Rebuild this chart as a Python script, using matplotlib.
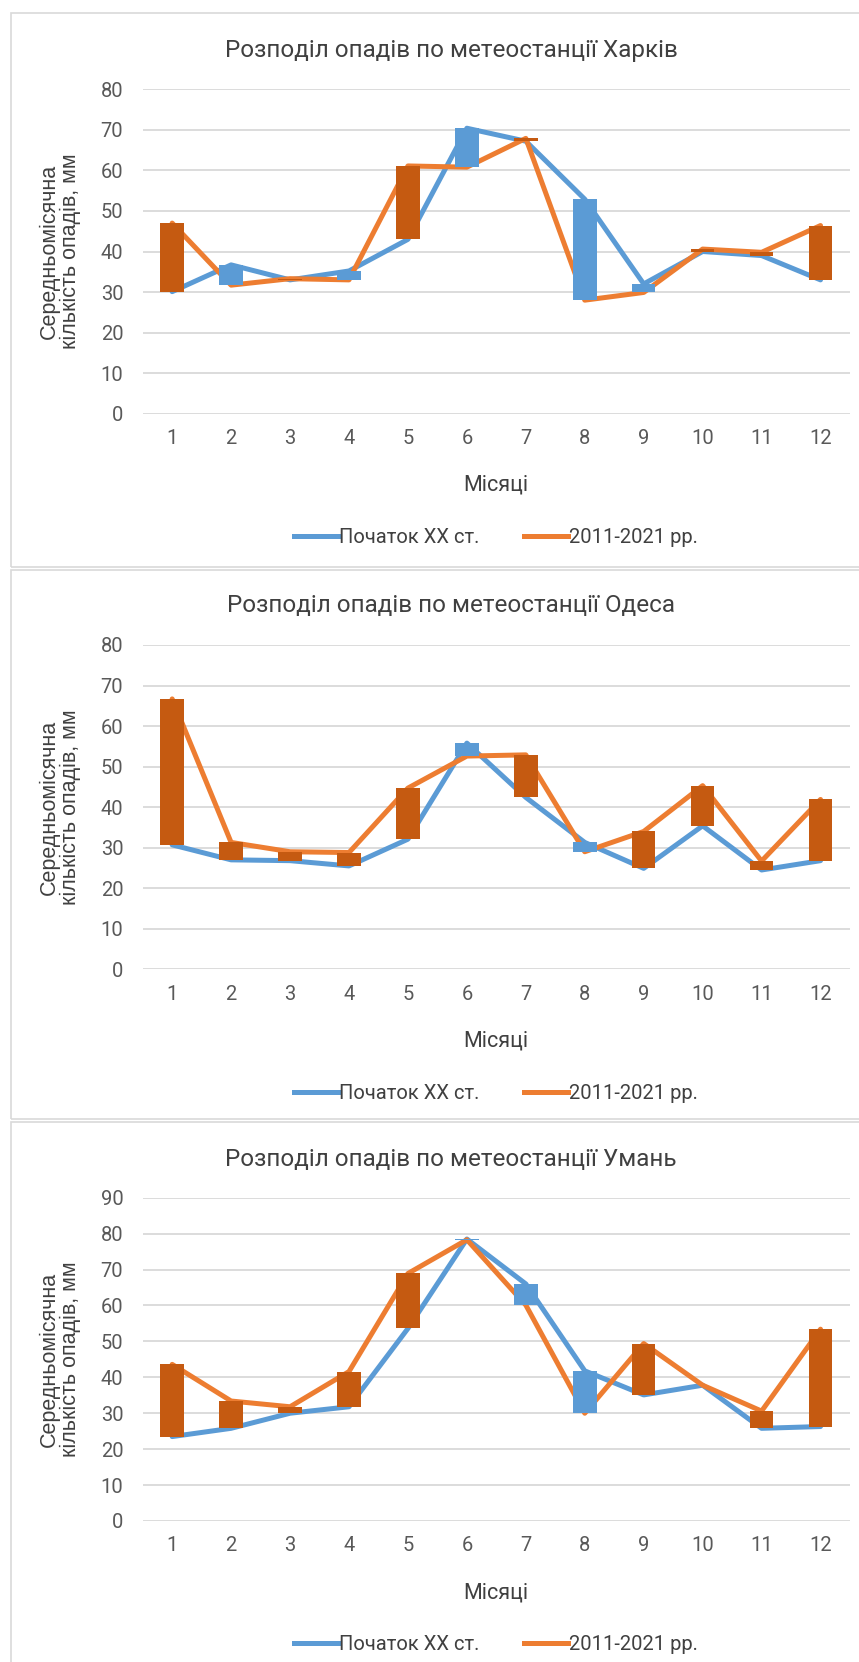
import numpy as np
import matplotlib.pyplot as plt
from matplotlib.patches import Rectangle
from matplotlib.lines import Line2D

W, H = 859, 1662
DPI = 100

months = list(range(1, 13))

# середньомісячні опади, мм
kharkiv_old = [30.1, 36.7, 33.0, 35.2, 43.0, 70.4, 67.2, 52.9, 32.0, 40.0, 39.0, 33.0]
kharkiv_new = [47.0, 31.7, 33.3, 33.0, 61.1, 60.8, 67.9, 28.0, 29.9, 40.6, 39.8, 46.4]
odesa_old = [30.7, 27.0, 26.8, 25.5, 32.1, 55.8, 42.4, 31.3, 24.9, 35.4, 24.5, 26.8]
odesa_new = [66.7, 31.3, 29.0, 28.8, 44.7, 52.6, 52.9, 29.0, 34.0, 45.3, 26.7, 41.9]
uman_old = [23.5, 25.8, 30.0, 31.8, 53.6, 78.5, 66.0, 41.8, 35.1, 37.8, 25.8, 26.3]
uman_new = [43.6, 33.4, 31.8, 41.6, 68.9, 78.3, 60.1, 30.0, 49.4, 37.8, 30.6, 53.4]

label_old = 'Початок XX ст.'
label_new = '2011-2021 рр.'

BLUE = '#5B9BD5'
ORANGE = '#ED7D31'
UP = '#C55A11'
GRID = '#D9D9D9'
TXT = '#595959'

FONT = ['Roboto', 'DejaVu Sans']
plt.rcParams['font.family'] = FONT


def fx(x):
    return x / W


def fy(y):
    return 1 - y / H


panels = [
    dict(title='Розподіл опадів по метеостанції Харків', old=kharkiv_old, new=kharkiv_new,
         ymax=80, frame=(10.5, 13, 880, 567), top=89.3, bottom=413.7, title_y=50),
    dict(title='Розподіл опадів по метеостанції Одеса', old=odesa_old, new=odesa_new,
         ymax=80, frame=(10.5, 570, 880, 1119), top=645, bottom=969.3, title_y=605.5),
    dict(title='Розподіл опадів по метеостанції Умань', old=uman_old, new=uman_new,
         ymax=90, frame=(11, 1122, 880, 1690), top=1197.7, bottom=1521, title_y=1159),
]

ax_left, ax_right = 142.7, 850

fig = plt.figure(figsize=(W / DPI, H / DPI), dpi=DPI)
fig.patch.set_facecolor('white')

for p in panels:
    l, t, r, b = p['frame']
    fig.patches.append(Rectangle((fx(l), fy(b)), fx(r - l), (b - t) / H,
                                 transform=fig.transFigure, fill=False,
                                 edgecolor=GRID, linewidth=1.2, zorder=0))

    ax = fig.add_axes([fx(ax_left), fy(p['bottom']), fx(ax_right - ax_left),
                       (p['bottom'] - p['top']) / H])
    ax.set_facecolor('none')
    old = np.array(p['old'])
    new = np.array(p['new'])

    ax.plot(months, old, color=BLUE, lw=3.6, solid_joinstyle='round',
            solid_capstyle='round', zorder=2)
    ax.plot(months, new, color=ORANGE, lw=3.6, solid_joinstyle='round',
            solid_capstyle='round', zorder=2)

    # up/down bars between the two series
    lo = np.minimum(old, new)
    hi = np.maximum(old, new)
    cols = [UP if n > o else BLUE for o, n in zip(old, new)]
    ax.bar(months, hi - lo, bottom=lo, width=0.4, color=cols, linewidth=0, zorder=3)

    ax.set_xlim(0.5, 12.5)
    ax.set_ylim(0, p['ymax'])
    ax.set_yticks(np.arange(0, p['ymax'] + 1, 10))
    ax.set_xticks(months)
    ax.grid(axis='y', color=GRID, lw=1.3, zorder=0)
    ax.set_axisbelow(True)
    for s in ax.spines.values():
        s.set_visible(False)
    ax.tick_params(axis='both', length=0, labelsize=14.5, labelcolor=TXT)
    ax.tick_params(axis='y', pad=14)
    ax.tick_params(axis='x', pad=11)

    fig.text(fx(451), fy(p['title_y']), p['title'], ha='center', va='center',
             fontsize=17.5, color='#404040')
    fig.text(fx(496), fy(p['bottom'] + 71.5), 'Місяці', ha='center', va='center',
             fontsize=15.5, color='#404040')
    fig.text(fx(60), fy((p['top'] + p['bottom']) / 2),
             'Середньомісячна\nкількість опадів, мм', rotation=90, ha='center',
             va='center', multialignment='center', fontsize=15.5, color='#404040',
             family=['Liberation Sans', 'DejaVu Sans'], linespacing=1.0)

    handles = [Line2D([], [], color=BLUE, lw=3.6), Line2D([], [], color=ORANGE, lw=3.6)]
    fig.legend(handles, [label_old, label_new], loc='center', ncol=2, frameon=False,
               bbox_to_anchor=(fx(496), fy(p['bottom'] + 124)), fontsize=14.5,
               labelcolor='#404040', handlelength=2.2, handletextpad=0.05,
               columnspacing=2.2)

fig.savefig('out.png', dpi=DPI, facecolor='white')
